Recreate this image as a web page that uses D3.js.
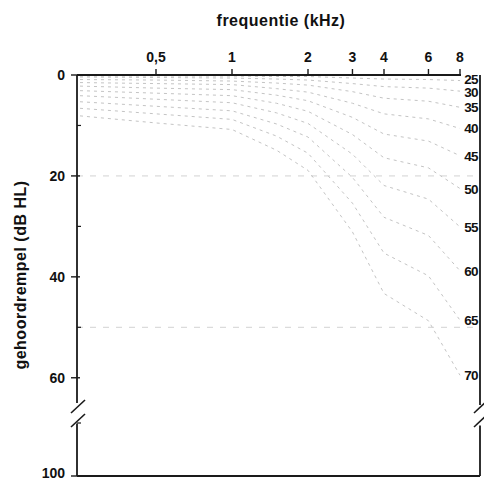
<!DOCTYPE html>
<html><head><meta charset="utf-8">
<script src="https://cdn.jsdelivr.net/npm/d3@7"></script>
<style>
html,body{margin:0;padding:0;background:#fff;}
text{font-family:"Liberation Sans",Arial,sans-serif;font-weight:bold;fill:#111;}
</style></head>
<body><svg id="chart" width="484" height="481"></svg>
<script>
// ---- data ----
const freqTicks = [0.5, 1, 2, 3, 4, 6, 8];
const freqTickLabels = ["0,5", "1", "2", "3", "4", "6", "8"];
const dbTicks = [0, 20, 40, 60, 100];
const dbMinorTicks = [10, 30, 50, 90];
const curveFreqs = [0.25, 0.5, 1, 1.5, 2, 3, 4, 6, 8];
const ages = [25, 30, 35, 40, 45, 50, 55, 60, 65, 70];
const loss25 = [0.2, 0.2, 0.2, 0.3, 0.3, 0.6, 0.8, 0.9, 1.1];
const loss30 = [0.4, 0.5, 0.6, 0.8, 1.0, 1.7, 2.3, 2.6, 3.2];
const loss35 = [0.9, 1.0, 1.2, 1.6, 2.0, 3.3, 4.6, 5.2, 6.4];
const loss40 = [1.5, 1.7, 1.9, 2.7, 3.4, 5.6, 7.7, 8.7, 10.6];
const loss45 = [2.2, 2.6, 2.9, 4.0, 5.1, 8.4, 11.7, 13.1, 16.0];
const loss50 = [3.1, 3.6, 4.1, 5.6, 7.2, 11.8, 16.4, 18.4, 22.5];
const loss55 = [4.1, 4.8, 5.5, 7.5, 9.6, 15.7, 21.9, 24.6, 30.1];
const loss60 = [5.3, 6.2, 7.1, 9.7, 12.3, 20.3, 28.2, 31.8, 38.8];
const loss65 = [6.6, 7.7, 8.8, 12.1, 15.5, 25.4, 35.3, 39.8, 48.6];
const loss70 = [8.1, 9.5, 10.8, 14.9, 18.9, 31.1, 43.3, 48.7, 59.5];
const referenceLevels = [20, 50];

const curves = [loss25, loss30, loss35, loss40, loss45, loss50, loss55, loss60, loss65, loss70];

(function () {
// ---- layout ----
const svg = d3.select("#chart");
const L = 77, R = 480, T = 75, B = 476;
const x = d3.scaleLog().domain([0.25, 8]).range([80, 460]);
const y = d3.scaleLinear().domain([0, 65, 90, 100]).range([75, 403, 423, 476]);
const ink = "#1a1a1a";

// reference levels
svg.append("g").selectAll("line").data(referenceLevels).join("line")
  .attr("x1", L).attr("x2", R - 4)
  .attr("y1", d => y(d)).attr("y2", d => y(d))
  .attr("stroke", "#d2d2d2").attr("stroke-width", 1).attr("stroke-dasharray", "6,7");

// age curves
const line = d3.line().x((d, i) => x(curveFreqs[i])).y(d => y(d)).curve(d3.curveLinear);
svg.append("g").selectAll("path").data(curves).join("path")
  .attr("d", line).attr("fill", "none")
  .attr("stroke", "#c4c4c4").attr("stroke-width", 1).attr("stroke-dasharray", "3,4");

// right-hand age labels at curve ends (first two nudged apart slightly)
svg.append("g").selectAll("text").data(ages).join("text")
  .attr("x", 478).attr("y", (d, i) => y(curves[i][curves[i].length - 1]) + (i === 0 ? 3.5 : i === 1 ? 5.5 : 5))
  .attr("text-anchor", "end").attr("font-size", 13.5).style("letter-spacing", "-0.6px")
  .text(d => d);

// frame: top
svg.append("line").attr("x1", L).attr("x2", 461).attr("y1", T).attr("y2", T)
  .attr("stroke", ink).attr("stroke-width", 2);
// bottom
svg.append("line").attr("x1", L).attr("x2", R).attr("y1", B).attr("y2", B)
  .attr("stroke", ink).attr("stroke-width", 1.8);
// left axis with break
const breakTop = y(65), breakBot = y(88);
svg.append("line").attr("x1", L).attr("x2", L).attr("y1", T).attr("y2", breakTop)
  .attr("stroke", ink).attr("stroke-width", 1.8);
svg.append("line").attr("x1", L).attr("x2", L).attr("y1", breakBot + 2).attr("y2", B)
  .attr("stroke", ink).attr("stroke-width", 1.8);
// right axis with break
svg.append("line").attr("x1", R).attr("x2", R).attr("y1", T).attr("y2", breakTop + 2)
  .attr("stroke", ink).attr("stroke-width", 1.8);
svg.append("line").attr("x1", R).attr("x2", R).attr("y1", breakBot + 4).attr("y2", B)
  .attr("stroke", ink).attr("stroke-width", 1.8);
// break slashes
[L, R].forEach(cx => {
  [0, 14].forEach(off => {
    svg.append("line")
      .attr("x1", cx - 6).attr("y1", breakTop + 10 + off)
      .attr("x2", cx + 8).attr("y2", breakTop - 3 + off)
      .attr("stroke", ink).attr("stroke-width", 1.6);
  });
});

// left axis ticks & labels
const yAxis = svg.append("g");
yAxis.selectAll("line.maj").data(dbTicks).join("line").attr("class", "maj")
  .attr("x1", L - 6).attr("x2", L + 3).attr("y1", d => y(d)).attr("y2", d => y(d))
  .attr("stroke", ink).attr("stroke-width", 1.4);
yAxis.selectAll("line.min").data(dbMinorTicks).join("line").attr("class", "min")
  .attr("x1", L).attr("x2", L + 4).attr("y1", d => y(d)).attr("y2", d => y(d))
  .attr("stroke", ink).attr("stroke-width", 1.2);
yAxis.selectAll("text").data(dbTicks).join("text")
  .attr("x", 65).attr("y", d => y(d) + (d === 100 ? 2 : 5))
  .attr("text-anchor", "end").attr("font-size", 14).text(d => d);

// top axis ticks & labels
const xAxis = svg.append("g");
xAxis.selectAll("line").data(freqTicks).join("line")
  .attr("x1", d => x(d)).attr("x2", d => x(d)).attr("y1", T - 6).attr("y2", T)
  .attr("stroke", ink).attr("stroke-width", 1.4);
xAxis.selectAll("text").data(freqTicks).join("text")
  .attr("x", d => x(d)).attr("y", 62)
  .attr("text-anchor", "middle").attr("font-size", 14)
  .text((d, i) => freqTickLabels[i]);

// titles
svg.append("text").attr("x", 281).attr("y", 26).attr("text-anchor", "middle")
  .attr("font-size", 16).style("letter-spacing", "0.5px").text("frequentie (kHz)");
svg.append("text").attr("transform", "translate(26,275) rotate(-90)")
  .attr("text-anchor", "middle").attr("font-size", 16).style("letter-spacing", "0.5px")
  .text("gehoordrempel (dB HL)");
})();
</script></body></html>
